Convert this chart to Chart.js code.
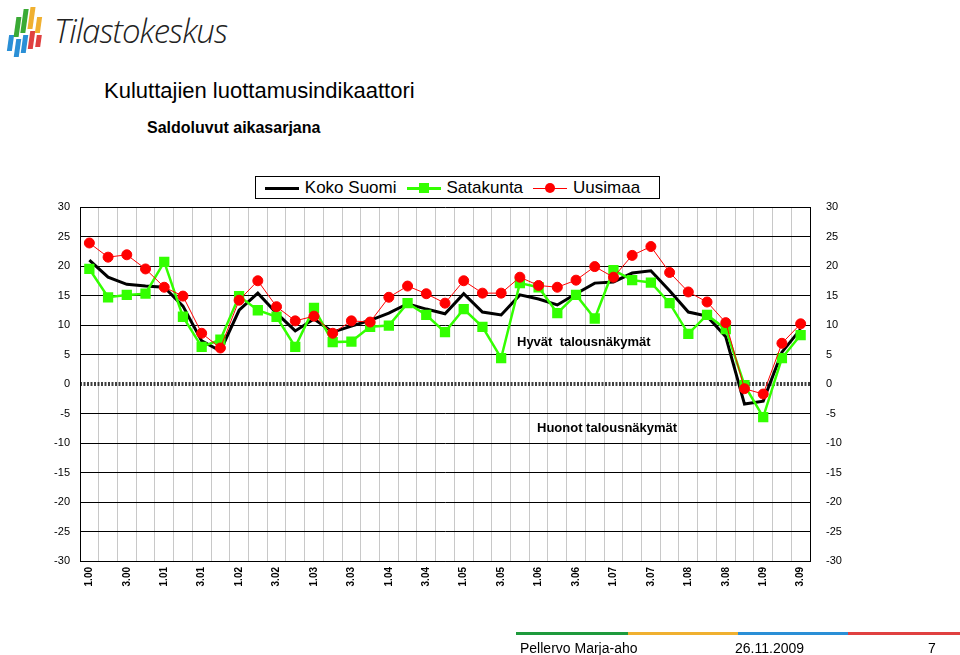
<!DOCTYPE html>
<html><head><meta charset="utf-8">
<script src="https://cdn.jsdelivr.net/npm/chart.js@4"></script>
<style>
body{margin:0;width:960px;height:655px;position:relative;background:#fff;font-family:Arial,"Liberation Sans",sans-serif;overflow:hidden}
.abs{position:absolute}
#chart{position:absolute;left:0;top:0}
.leg{display:inline-flex;align-items:center;margin-right:10px}
.lg{position:relative;width:34px;height:12px;margin-right:6px}
.lg i{position:absolute;left:0;right:0;top:5px;height:3px}
.lg b{position:absolute;left:12px;top:1px;width:10px;height:10px}
</style></head><body>
<div class="abs" style="left:4px;top:5px;width:40px;height:50px">
  <div class="abs" style="left:4px;top:30px;width:5px;height:16px;background:#2a8fd6;transform:skewX(-8deg)"></div>
  <div class="abs" style="left:11px;top:12px;width:5px;height:20px;background:#3aaa35;transform:skewX(-8deg)"></div>
  <div class="abs" style="left:11px;top:34px;width:5px;height:18px;background:#2a8fd6;transform:skewX(-8deg)"></div>
  <div class="abs" style="left:18px;top:4px;width:5px;height:24px;background:#3aaa35;transform:skewX(-8deg)"></div>
  <div class="abs" style="left:18px;top:30px;width:5px;height:18px;background:#2a8fd6;transform:skewX(-8deg)"></div>
  <div class="abs" style="left:25px;top:2px;width:5px;height:22px;background:#f0b030;transform:skewX(-8deg)"></div>
  <div class="abs" style="left:25px;top:26px;width:5px;height:18px;background:#e04040;transform:skewX(-8deg)"></div>
  <div class="abs" style="left:32px;top:12px;width:5px;height:16px;background:#f0b030;transform:skewX(-8deg)"></div>
  <div class="abs" style="left:32px;top:30px;width:5px;height:12px;background:#e04040;transform:skewX(-8deg)"></div>
</div>
<div class="abs" style="left:54px;top:8px;font-size:33px;color:#222;font-family:'Open Sans',sans-serif;font-weight:300;letter-spacing:-1px;font-style:italic">Tilastokeskus</div>
<div class="abs" style="left:104px;top:78px;font-size:22px;color:#000">Kuluttajien luottamusindikaattori</div>
<div class="abs" style="left:147px;top:119px;font-size:16px;font-weight:bold;color:#000">Saldoluvut aikasarjana</div>
<div class="abs" style="left:255px;top:176px;width:405px;height:23px;border:1px solid #000;box-sizing:border-box;display:flex;align-items:center;justify-content:center;font-size:17px">
  <span class="leg"><span class="lg"><i style="background:#000"></i></span>Koko Suomi</span>
  <span class="leg"><span class="lg"><i style="background:#33ff00"></i><b style="background:#33ff00"></b></span>Satakunta</span>
  <span class="leg"><span class="lg"><i style="background:#ff0000;height:1px;top:6px"></i><b style="background:#ff0000;border-radius:50%"></b></span>Uusimaa</span>
</div>
<canvas id="chart" width="960" height="655"></canvas>
<div class="abs" style="left:516px;top:632px;width:112px;height:3px;background:#1e9a3c"></div>
<div class="abs" style="left:628px;top:632px;width:110px;height:3px;background:#f0b030"></div>
<div class="abs" style="left:738px;top:632px;width:110px;height:3px;background:#2a8fd6"></div>
<div class="abs" style="left:848px;top:632px;width:112px;height:3px;background:#e04040"></div>
<div class="abs" style="left:520px;top:640px;font-size:14px">Pellervo Marja-aho</div>
<div class="abs" style="left:735px;top:640px;font-size:14px">26.11.2009</div>
<div class="abs" style="left:928px;top:640px;font-size:14px">7</div>
<script>
const quarters = [];
for (let y = 0; y <= 9; y++) for (let q = 1; q <= 4; q++) quarters.push(q + '.0' + y);
const categories = quarters.slice(0, 39);
const kokoSuomi = [21.0,18.1,16.9,16.6,16.4,13.2,7.3,5.6,12.5,15.4,12.0,9.0,11.0,8.8,9.8,10.8,12.0,13.6,12.7,11.9,
  15.3,12.2,11.7,15.1,14.4,13.4,15.3,17.1,17.3,18.8,19.2,15.8,12.2,11.5,8.0,-3.4,-2.9,5.4,9.3];
const satakunta = [19.5,14.7,15.1,15.3,20.7,11.4,6.3,7.5,14.9,12.5,11.4,6.3,12.9,7.1,7.2,9.7,9.9,13.7,11.7,8.8,
  12.7,9.7,4.4,17.1,16.4,12.0,15.1,11.1,19.3,17.6,17.2,13.7,8.5,11.7,9.3,-0.2,-5.6,4.4,8.3];
const uusimaa = [23.9,21.5,21.9,19.5,16.4,14.9,8.6,6.1,14.2,17.5,13.1,10.7,11.5,8.6,10.7,10.5,14.7,16.6,15.3,13.7,
  17.5,15.4,15.4,18.1,16.7,16.4,17.6,19.9,18.1,21.8,23.3,18.9,15.6,13.9,10.4,-0.8,-1.7,6.9,10.2];
const yTicks = [-30,-25,-20,-15,-10,-5,0,5,10,15,20,25,30];

const overlay = {
  id: 'overlay',
  beforeDatasetsDraw(c) {
    const g = c.ctx, y = c.scales.y.getPixelForValue(0), a = c.chartArea;
    g.save();
    g.strokeStyle = '#000'; g.lineWidth = 1.5; g.setLineDash([2, 1.5]);
    g.beginPath(); g.moveTo(a.left, y - 1); g.lineTo(a.right, y - 1); g.stroke();
    g.beginPath(); g.moveTo(a.left, y + 1); g.lineTo(a.right, y + 1); g.stroke();
    g.restore();
  },
  afterDraw(c) {
    const g = c.ctx;
    g.save();
    g.fillStyle = '#000'; g.font = 'bold 13px Arial';
    g.fillText('Hyvät  talousnäkymät', 517, 346);
    g.fillText('Huonot talousnäkymät', 537, 432);
    g.restore();
  }
};

new Chart(document.getElementById('chart'), {
  type: 'line',
  data: {
    labels: categories,
    datasets: [
      { label: 'Uusimaa', data: uusimaa, borderColor: '#ff0000', backgroundColor: '#ff0000', borderWidth: 1,
        pointStyle: 'circle', pointRadius: 5, tension: 0 },
      { label: 'Satakunta', data: satakunta, borderColor: '#33ff00', backgroundColor: '#33ff00', borderWidth: 2.5,
        pointStyle: 'rect', pointRadius: 5.5, tension: 0 },
      { label: 'Koko Suomi', data: kokoSuomi, borderColor: '#000', borderWidth: 3, pointRadius: 0, tension: 0 }
    ]
  },
  options: {
    responsive: false,
    animation: false,
    layout: { padding: { top: 207, right: 110, left: 0, bottom: 0 } },
    plugins: { legend: { display: false }, tooltip: { enabled: false } },
    scales: {
      x: {
        offset: true,
        grid: { offset: true, color: '#c8c8c8', drawTicks: false },
        border: { color: '#000' },
        afterFit(s) { s.height = 94; },
        ticks: {
          autoSkip: false, maxRotation: 90, minRotation: 90, color: '#000',
          font: { size: 10, weight: 'bold', family: 'Arial' }, padding: 6,
          callback: function(value, index) { return index % 2 === 0 ? categories[index] : ''; }
        }
      },
      y: {
        min: -30, max: 30,
        afterFit(s) { s.width = 80; },
        afterBuildTicks(s) { s.ticks = yTicks.map(v => ({ value: v })); },
        grid: { color: c => c.tick && c.tick.value === 0 ? 'rgba(0,0,0,0)' : '#000', drawTicks: false },
        border: { color: '#000' },
        ticks: { color: '#000', font: { size: 11, family: 'Arial' }, padding: 10 }
      },
      y2: {
        position: 'right', min: -30, max: 30,
        afterFit(s) { s.width = 40; },
        afterBuildTicks(s) { s.ticks = yTicks.map(v => ({ value: v })); },
        grid: { display: false },
        border: { color: '#000' },
        ticks: { color: '#000', font: { size: 11, family: 'Arial' }, padding: 8 }
      }
    }
  },
  plugins: [overlay]
});
</script>
</body></html>
